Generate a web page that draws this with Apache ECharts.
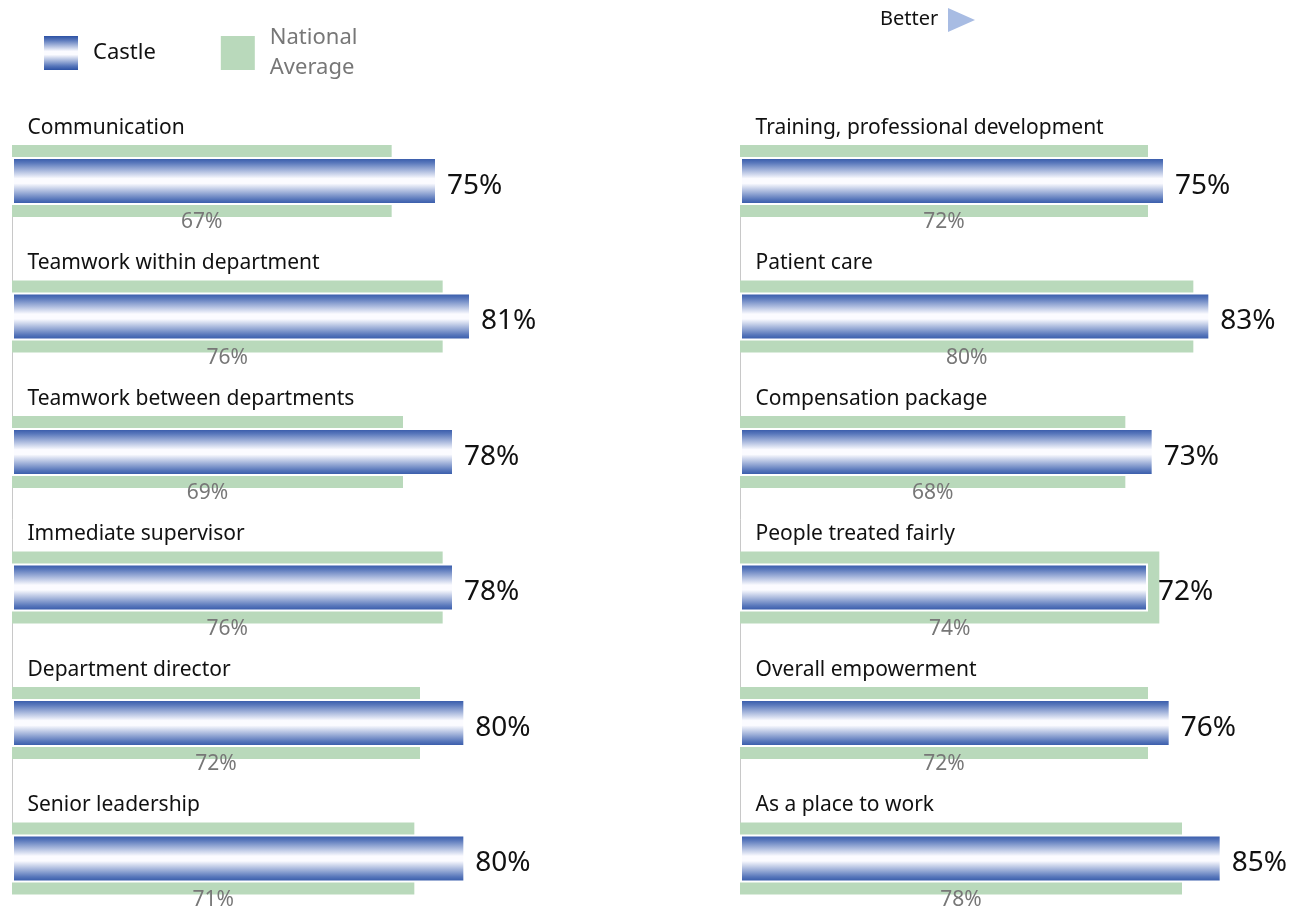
<!DOCTYPE html>
<html>
<head>
<meta charset="utf-8">
<script src="https://cdn.jsdelivr.net/npm/echarts@6/dist/echarts.min.js"></script>
<style>
  html, body { margin: 0; padding: 0; background: #fff; }
  #chart { width: 1299px; height: 908px; }
</style>
</head>
<body>
<div id="chart"></div>
<script>
// Survey dimensions, left column
const leftCategories = ['Communication', 'Teamwork within department', 'Teamwork between departments',
  'Immediate supervisor', 'Department director', 'Senior leadership'];
const leftCastle = [75, 81, 78, 78, 80, 80];
const leftNational = [67, 76, 69, 76, 72, 71];

// Survey dimensions, right column
const rightCategories = ['Training, professional development', 'Patient care', 'Compensation package',
  'People treated fairly', 'Overall empowerment', 'As a place to work'];
const rightCastle = [75, 83, 73, 72, 76, 85];
const rightNational = [72, 80, 68, 74, 72, 78];

const FONT = '"Noto Sans", sans-serif';
const GREEN = '#b9d9bb';
const castleGradient = new echarts.graphic.LinearGradient(0, 0, 0, 1, [
  { offset: 0, color: '#2c51a4' },
  { offset: 0.12, color: '#5877bb' },
  { offset: 0.45, color: '#fbfbff' },
  { offset: 0.55, color: '#fbfbff' },
  { offset: 0.88, color: '#5877bb' },
  { offset: 1, color: '#2c51a4' }
]);

function lineAxis(gridIndex, cats) {
  return {
    type: 'category', gridIndex, data: cats, inverse: true, boundaryGap: false,
    axisLine: { show: true, lineStyle: { color: '#c8c8c8', width: 1 } },
    axisTick: { show: false },
    axisLabel: { show: false }
  };
}
function hiddenAxis(gridIndex, cats) {
  return { type: 'category', gridIndex, data: cats, inverse: true, boundaryGap: false, show: false, position: 'right' };
}
// Row titles, anchored at the start of each row and lifted above the bars
function titleSeries(xi, yi, cats) {
  return {
    type: 'scatter', xAxisIndex: xi, yAxisIndex: yi, silent: true,
    data: cats.map(c => [0, c]),
    symbolSize: 1, itemStyle: { color: 'rgba(0,0,0,0)', opacity: 1 },
    label: {
      show: true, position: 'right', distance: 0, offset: [15, -53],
      fontSize: 21, fontFamily: FONT, color: '#111',
      formatter: p => p.data[1]
    }
  };
}
function nationalSeries(xi, yi, data) {
  return {
    name: 'National Average', type: 'bar', xAxisIndex: xi, yAxisIndex: yi, data,
    barWidth: 72, clip: false, itemStyle: { color: GREEN },
    label: {
      show: true, position: 'insideBottom', distance: 0, offset: [0, 16],
      fontSize: 21, fontFamily: FONT, color: '#777', formatter: '{c}%'
    }
  };
}
function castleSeries(xi, yi, data) {
  return {
    name: 'Castle', type: 'bar', xAxisIndex: xi, yAxisIndex: yi, data,
    barWidth: 48, clip: false,
    itemStyle: { color: castleGradient, borderColor: '#fff', borderWidth: 2 },
    label: {
      show: true, position: 'right', distance: 10, offset: [0, 5],
      fontSize: 28, fontFamily: FONT, color: '#111', formatter: '{c}%'
    }
  };
}

const chart = echarts.init(document.getElementById('chart'), null, { renderer: 'canvas' });
chart.setOption({
  animation: false,
  textStyle: { fontFamily: FONT },
  legend: {
    left: 39, top: 16, itemWidth: 34, itemHeight: 34, itemGap: 65, icon: 'rect',
    selectedMode: false,
    itemStyle: { borderWidth: 0 },
    textStyle: { fontSize: 22, fontFamily: FONT, padding: [4, 0, 0, 10] },
    formatter: n => n === 'National Average' ? 'National\nAverage' : n,
    data: [
      { name: 'Castle', textStyle: { color: '#111', fontSize: 22, padding: [4, 0, 0, 10] } },
      { name: 'National Average', textStyle: { color: '#777', fontSize: 22, lineHeight: 30, padding: [4, 0, 0, 10] } }
    ]
  },
  graphic: [
    { type: 'text', left: 880, top: 9, style: { text: 'Better', fontSize: 20, fontFamily: FONT, fill: '#111' } },
    { type: 'polygon', shape: { points: [[948, 8], [975, 20], [948, 32]] }, style: { fill: '#a8bce3' } }
  ],
  grid: [
    { left: 12, top: 181, width: 510, height: 677.5 },
    { left: 740, top: 181, width: 510, height: 677.5 }
  ],
  xAxis: [
    { type: 'value', gridIndex: 0, min: 0, max: 90, show: false },
    { type: 'value', gridIndex: 1, min: 0, max: 90, show: false }
  ],
  yAxis: [
    lineAxis(0, leftCategories),
    hiddenAxis(0, leftCategories),
    lineAxis(1, rightCategories),
    hiddenAxis(1, rightCategories)
  ],
  series: [
    nationalSeries(0, 0, leftNational),
    castleSeries(0, 1, leftCastle),
    titleSeries(0, 0, leftCategories),
    nationalSeries(1, 2, rightNational),
    castleSeries(1, 3, rightCastle),
    titleSeries(1, 2, rightCategories)
  ]
});
</script>
</body>
</html>
